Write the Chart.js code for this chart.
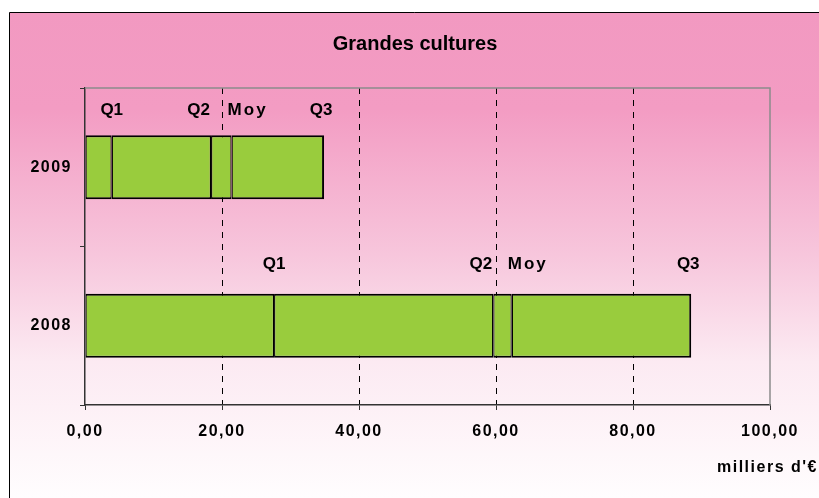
<!DOCTYPE html>
<html>
<head>
<meta charset="utf-8">
<script src="https://cdn.jsdelivr.net/npm/chart.js@4/dist/chart.umd.min.js"></script>
<style>
  html, body { margin: 0; padding: 0; background: #fff; }
  canvas { display: block; }
</style>
</head>
<body>
<canvas id="boxChart" width="819" height="498"></canvas>
<script>
var years = ['2009', '2008'];
var q1 = [3.9, 27.6];
var q2 = [18.4, 59.6];
var moy = [21.4, 62.3];
var q3 = [34.9, 88.5];
var xTicks = [0, 20, 40, 60, 80, 100];
var segmentNames = ['Q1', 'Q2', 'Moy', 'Q3'];

var green = '#99CC3D';

function span(from, to) {
    return years.map(function (_, i) { return [from ? from[i] : 0, to[i]]; });
}

function frNum(v) {
    return v.toFixed(2).replace('.', ',');
}

// pink to white background and outer frame
var backdrop = {
    id: 'backdrop',
    beforeDraw: function (chart) {
        var ctx = chart.ctx;
        ctx.save();
        ctx.fillStyle = '#fff';
        ctx.fillRect(0, 0, chart.width, chart.height);
        var g = ctx.createLinearGradient(0, 12, 0, 498);
        g.addColorStop(0, '#F299C1');
        g.addColorStop(0.2, '#F39CC3');
        g.addColorStop(0.5, '#F7C6DC');
        g.addColorStop(0.72, '#FCEAF2');
        g.addColorStop(1, '#FFFDFE');
        ctx.fillStyle = g;
        ctx.fillRect(9.5, 12.5, chart.width, chart.height);
        ctx.strokeStyle = '#000';
        ctx.lineWidth = 1;
        ctx.beginPath();
        ctx.moveTo(9.5, chart.height);
        ctx.lineTo(9.5, 12.5);
        ctx.lineTo(chart.width, 12.5);
        ctx.stroke();
        ctx.restore();
        ctx.letterSpacing = '1.5px';
    },
    beforeDatasetsDraw: function (chart) {
        var a = chart.chartArea, ctx = chart.ctx;
        ctx.save();
        ctx.strokeStyle = '#8c8c8c';
        ctx.lineWidth = 1.5;
        ctx.beginPath();
        ctx.moveTo(a.left, a.top);
        ctx.lineTo(a.right, a.top);
        ctx.lineTo(a.right, a.bottom);
        ctx.stroke();
        ctx.restore();
    },
    afterDraw: function (chart) {
        var ctx = chart.ctx;
        ctx.save();
        ctx.fillStyle = '#000';
        ctx.font = 'bold 20px "Liberation Sans", Arial, sans-serif';
        ctx.letterSpacing = '0px';
        ctx.textAlign = 'center';
        ctx.textBaseline = 'alphabetic';
        ctx.fillText('Grandes cultures', 415, 50);
        ctx.font = 'bold 16px "Liberation Sans", Arial, sans-serif';
        ctx.letterSpacing = '1.5px';
        ctx.textAlign = 'left';
        ctx.fillText("milliers d'€", 717, 472);
        ctx.restore();
        ctx.letterSpacing = '0px';
    }
};

// Q1 / Q2 / Moy / Q3 labels above each box
var quartLabels = {
    id: 'quartLabels',
    afterDatasetsDraw: function (chart) {
        var ctx = chart.ctx, x = chart.scales.x;
        var meta = chart.getDatasetMeta(0);
        var sets = [q1, q2, moy, q3];
        ctx.save();
        ctx.fillStyle = '#000';
        ctx.font = 'bold 17px "Liberation Sans", Arial, sans-serif';
        ctx.textBaseline = 'alphabetic';
        meta.data.forEach(function (bar, i) {
            var y = bar.y - bar.height / 2 - 20 - 5 * i;
            sets.forEach(function (arr, k) {
                var px = x.getPixelForValue(arr[i]);
                var name = segmentNames[k];
                ctx.letterSpacing = name === 'Moy' ? '2px' : '0px';
                if (name === 'Q2') {
                    ctx.textAlign = 'right';
                    ctx.fillText(name, px - 1, y);
                } else if (name === 'Moy') {
                    ctx.textAlign = 'left';
                    ctx.fillText(name, px - 4, y);
                } else {
                    ctx.textAlign = 'center';
                    ctx.fillText(name, px - (name === 'Q3' ? 3 : 0), y);
                }
            });
        });
        ctx.restore();
    }
};

function seg(from, to, right) {
    return {
        data: span(from, to),
        backgroundColor: green,
        borderColor: '#000',
        borderWidth: { top: 2, bottom: 2, left: 1.25, right: right },
        borderSkipped: false,
        inflateAmount: 0,
        grouped: false,
        categoryPercentage: 1,
        barPercentage: 0.405
    };
}

document.addEventListener('DOMContentLoaded', function () {
    var ctx = document.getElementById('boxChart').getContext('2d');
    var boxChart = new Chart(ctx, {
        type: 'bar',
        data: {
            labels: years,
            datasets: [
                seg(null, q1, 1.25),
                seg(q1, q2, 1.25),
                seg(q2, moy, 1.25),
                seg(moy, q3, 2)
            ]
        },
        options: {
            indexAxis: 'y',
            responsive: false,
            animation: false,
            devicePixelRatio: 1,
            layout: { padding: { top: 88, right: 49, left: 0, bottom: 0 } },
            plugins: {
                legend: { display: false },
                title: { display: false },
                tooltip: { enabled: false }
            },
            scales: {
                x: {
                    min: 0,
                    max: 100,
                    afterFit: function (s) { s.height = 93; },
                    afterBuildTicks: function (s) {
                        s.ticks = xTicks.map(function (v) { return { value: v }; });
                    },
                    ticks: {
                        callback: function (v) { return frNum(v); },
                        color: '#000',
                        padding: 12,
                        maxRotation: 0,
                        font: { family: '"Liberation Sans", Arial, sans-serif', size: 16, weight: 'bold' }
                    },
                    grid: {
                        color: function (c) {
                            var v = c.tick ? c.tick.value : null;
                            return (v === 0 || v === 100) ? 'rgba(0,0,0,0)' : '#000';
                        },
                        lineWidth: 1,
                        tickColor: '#333',
                        tickLength: 5,
                        tickWidth: 1
                    },
                    border: { color: '#333', width: 1.5, dash: [6, 6] }
                },
                y: {
                    afterFit: function (s) { s.width = 85; },
                    ticks: {
                        color: '#000',
                        padding: 8,
                        font: { family: '"Liberation Sans", Arial, sans-serif', size: 16, weight: 'bold' }
                    },
                    grid: {
                        drawOnChartArea: false,
                        tickColor: '#333',
                        tickLength: 5,
                        offset: true
                    },
                    border: { color: '#333', width: 1.5 }
                }
            }
        },
        plugins: [backdrop, quartLabels]
    });
});
</script>
</body>
</html>
